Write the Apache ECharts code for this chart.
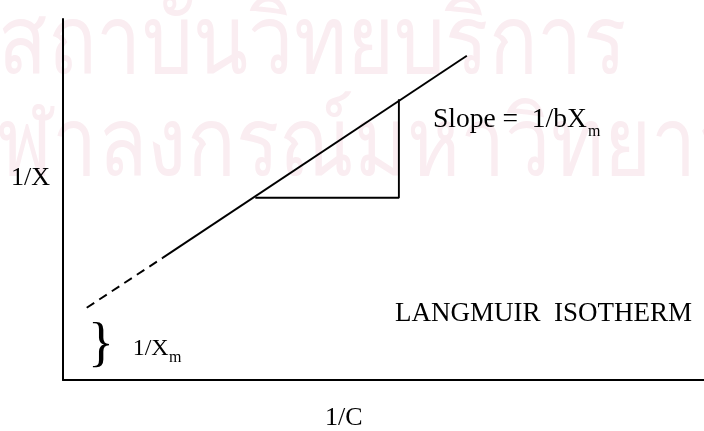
<!DOCTYPE html>
<html>
<head>
<meta charset="utf-8">
<script src="https://cdn.jsdelivr.net/npm/echarts@6/dist/echarts.min.js"></script>
<style>
  html, body { margin: 0; padding: 0; background: #ffffff; }
  #chart { width: 704px; height: 431px; }
</style>
</head>
<body>
<div id="chart"></div>
<script>
// Linearised Langmuir isotherm: 1/X plotted against 1/C
var extrapolated = [[0.37, 2.0], [1.56, 3.39]];   // dashed run down towards the intercept
var measured = [[1.56, 3.39], [6.30, 8.98]];      // solid part of the line
var slopeTriangle = [[3.0, 5.05], [5.24, 5.05], [5.24, 7.78]];
var axisRange = { xMin: 0, xMax: 10, yMin: 0, yMax: 10 };

var SERIF = '"Liberation Serif", "Times New Roman", serif';
var chart = echarts.init(document.getElementById('chart'), null, { renderer: 'canvas' });

function txt(x, y, s, size, color) {
  return {
    type: 'text', x: x, y: y, z: 10,
    style: {
      text: s, font: size + 'px ' + SERIF, fill: color || '#000',
      textAlign: 'left', textVerticalAlign: 'middle'
    }
  };
}

function watermark(x, y, s) {
  return {
    type: 'text', x: x, y: y, z: -10, silent: true, scaleX: 0.84,
    style: { text: s, font: '96px "Noto Sans", sans-serif', fill: '#faedf1', textVerticalAlign: 'top' }
  };
}

var plainAxis = {
  type: 'value',
  axisLine: { show: true, onZero: false, lineStyle: { color: '#000', width: 2 } },
  axisTick: { show: false },
  axisLabel: { show: false },
  splitLine: { show: false }
};

chart.setOption({
  backgroundColor: '#ffffff',
  animation: false,
  grid: { left: 63, right: 0, top: 19, bottom: 51 },
  xAxis: Object.assign({}, plainAxis, { min: axisRange.xMin, max: axisRange.xMax }),
  yAxis: Object.assign({}, plainAxis, { min: axisRange.yMin, max: axisRange.yMax }),
  series: [
    {
      type: 'line', data: extrapolated, showSymbol: false, z: 5,
      lineStyle: { color: '#000', width: 1.9, type: [9, 6] }
    },
    {
      type: 'line', data: measured, showSymbol: false, z: 5,
      lineStyle: { color: '#000', width: 1.9 }
    },
    {
      type: 'line', data: slopeTriangle, showSymbol: false, z: 5,
      lineStyle: { color: '#000', width: 1.9 }
    }
  ],
  graphic: [
    // pale institutional watermark behind the figure
    watermark(-2, -2, 'สถาบันวิทยบริการ'),
    watermark(-50, 100, 'จุฬาลงกรณ์มหาวิทยาลัย'),
    txt(11, 178, '1/X', 26),
    txt(325, 418, '1/C', 26),
    txt(395, 313.5, 'LANGMUIR  ISOTHERM', 27),
    txt(433, 120, 'Slope =  1/bX', 27.5),
    txt(588, 131.5, 'm', 16),
    txt(88, 346, '}', 54),
    txt(132.7, 348.6, '1/X', 24),
    txt(169, 357.6, 'm', 16)
  ]
});
</script>
</body>
</html>
